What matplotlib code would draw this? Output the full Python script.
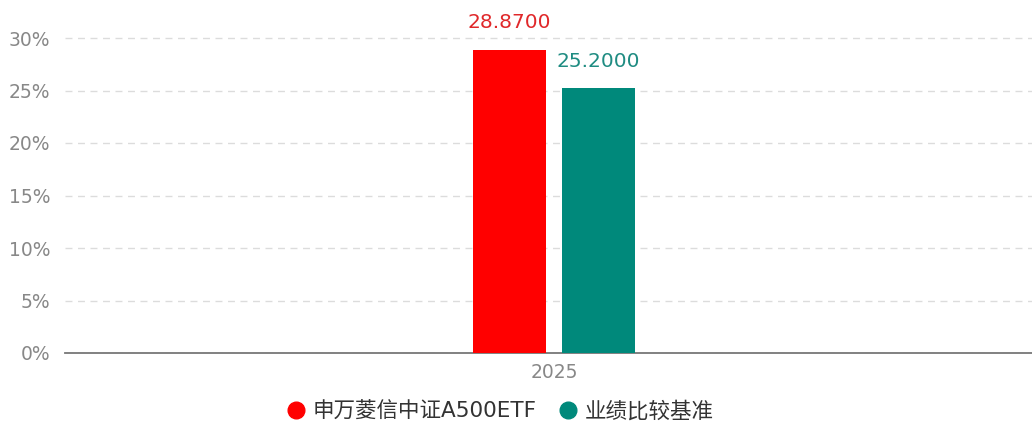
import numpy as np
import matplotlib.pyplot as plt
from matplotlib.lines import Line2D

plt.rcParams['font.family'] = ['DejaVu Sans', 'Noto Sans CJK SC']

# data
categories = ['2025']
series_names = ['申万菱信中证A500ETF', '业绩比较基准']
series_values = [[28.87], [25.20]]
series_colors = ['#FF0000', '#00897B']
label_colors = ['#E0282A', '#1F8C82']
yticks = [0, 5, 10, 15, 20, 25, 30]

fig = plt.figure(figsize=[10.32, 4.22], dpi=100)
ax = fig.add_axes([65/1032, 1-353/422, 1-65/1032, (353-17)/422])

x = np.arange(len(categories))
width = 0.0755
offsets = [-0.046, 0.046]

for i in range(len(series_names)):
    bars = ax.bar(x + offsets[i], series_values[i], width, color=series_colors[i], zorder=3)
    for b, v in zip(bars, series_values[i]):
        ax.text(b.get_x() + b.get_width()/2, v + 1.7, '%.4f' % v,
                ha='center', va='bottom', fontsize=14.5, color=label_colors[i])

ax.set_xlim(-0.5057, 0.4943)
ax.set_ylim(0, 32)
ax.set_yticks(yticks)
ax.set_yticklabels([str(t) + '%' for t in yticks])
ax.set_xticks(x)
ax.set_xticklabels(categories)
ax.yaxis.grid(True, linestyle=(0, (5, 4)), color='#DCDCDC', linewidth=1)
ax.set_axisbelow(True)
for s in ['top', 'right', 'left']:
    ax.spines[s].set_visible(False)
ax.spines['bottom'].set_color('#777777')
ax.spines['bottom'].set_linewidth(1.3)
ax.tick_params(axis='both', length=0, labelsize=13.5, colors='#888888')
ax.tick_params(axis='y', pad=10.5)
ax.tick_params(axis='x', pad=7)

handles = [Line2D([], [], marker='o', linestyle='', markersize=12,
                  markerfacecolor=c, markeredgecolor=c) for c in series_colors]
leg = fig.legend(handles, series_names, loc='center', bbox_to_anchor=(500/1032, 1-411/422),
                 ncol=2, frameon=False, fontsize=15.5, handlelength=0.9,
                 handletextpad=0.35, columnspacing=1.0)
for t in leg.get_texts():
    t.set_color('#333333')

fig.savefig('out.png', dpi=100)
